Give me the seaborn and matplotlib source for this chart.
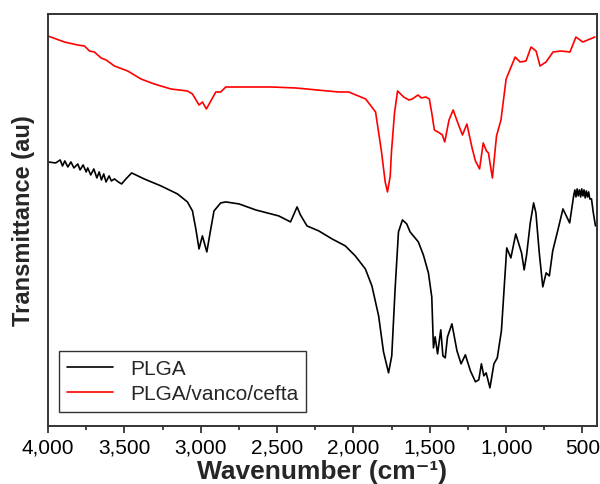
import matplotlib
matplotlib.use('Agg')
import matplotlib.pyplot as plt
import matplotlib.ticker as mticker
import pandas as pd
import seaborn as sns

# PLGA spectrum (wavenumber, transmittance in arbitrary units)
plga_wn = [4000, 3950, 3920, 3905, 3890, 3870, 3850, 3830, 3805, 3790, 3770, 3750,
           3740, 3720, 3700, 3680, 3665, 3650, 3635, 3620, 3600, 3585, 3565, 3540,
           3518, 3490, 3452, 3370, 3260, 3152, 3087, 3054, 3032, 3011, 2989, 2960,
           2934, 2913, 2891, 2869, 2836, 2749, 2640, 2489, 2412, 2369, 2347, 2304,
           2227, 2140, 2053, 1988, 1922, 1879, 1835, 1803, 1770, 1749, 1727, 1705,
           1679, 1651, 1629, 1575, 1542, 1509, 1487, 1476, 1465, 1449, 1428, 1414,
           1399, 1384, 1355, 1322, 1295, 1267, 1234, 1201, 1179, 1162, 1146, 1131,
           1106, 1080, 1058, 1031, 996, 969, 937, 899, 882, 866, 842, 820, 805,
           783, 760, 738, 717, 695, 661, 628, 606, 584, 558, 550, 543, 535, 528,
           520, 512, 505, 497, 490, 482, 475, 467, 460, 452, 441, 430, 415]
plga_t = [264, 263, 266, 260, 265, 259, 264, 258, 262, 256, 261, 254,
          258, 251, 257, 248, 254, 246, 252, 244, 250, 245, 247, 244,
          242, 247, 253, 247, 240, 232, 224, 215, 197, 177, 190, 174,
          197, 215, 219, 223, 224, 222, 216, 210, 204, 219, 211, 200,
          195, 187, 180, 170, 157, 140, 110, 74, 53, 70, 137, 194,
          206, 202, 194, 184, 171, 153, 129, 78, 89, 72, 96, 70,
          68, 89, 102, 75, 62, 71, 55, 44, 46, 62, 50, 53,
          38, 62, 68, 95, 178, 168, 192, 173, 156, 171, 203, 223, 213,
          173, 139, 153, 150, 175, 196, 217, 210, 203, 230, 236, 229, 237, 230,
          236, 229, 237, 230, 236, 228, 235, 229, 234, 227, 227, 214, 200]

# PLGA/vanco/cefta spectrum
mix_wn = [4000, 3892, 3805, 3761, 3728, 3696, 3652, 3619, 3565, 3478, 3391, 3304,
          3195, 3087, 3054, 3011, 2989, 2963, 2934, 2901, 2869, 2836, 2717, 2534,
          2377, 2097, 2031, 1920, 1855, 1816, 1792, 1777, 1759, 1751, 1731, 1711,
          1671, 1637, 1615, 1577, 1555, 1526, 1503, 1487, 1470, 1436, 1418, 1402,
          1374, 1347, 1314, 1286, 1257, 1223, 1201, 1174, 1150, 1129, 1116, 1090,
          1063, 1034, 1000, 941, 909, 870, 837, 804, 778, 739, 693, 641, 582,
          543, 498, 419]
mix_t = [390, 384, 381, 380, 375, 374, 368, 366, 360, 355, 347, 342,
         337, 335, 332, 321, 324, 317, 325, 334, 334, 339, 339, 339,
         338, 334, 334, 327, 314, 274, 244, 234, 250, 274, 313, 335,
         329, 326, 327, 331, 328, 329, 327, 313, 296, 293, 291, 284,
         306, 316, 302, 291, 302, 278, 265, 257, 283, 275, 273, 248,
         290, 306, 347, 369, 364, 365, 379, 375, 360, 364, 374, 375, 374,
         389, 384, 389]

series_names = ['PLGA', 'PLGA/vanco/cefta']
series_colors = ['black', 'red']
xticks = [4000, 3500, 3000, 2500, 2000, 1500, 1000, 500]

df = pd.concat([
    pd.DataFrame({'wn': plga_wn, 't': plga_t, 'sample': series_names[0]}),
    pd.DataFrame({'wn': mix_wn, 't': mix_t, 'sample': series_names[1]}),
])

sns.set_style('ticks')
plt.rcParams['font.family'] = ['Liberation Sans', 'DejaVu Sans']

fig = plt.figure(figsize=(6, 4.85), dpi=100)
ax = fig.add_axes([0.08, 0.12, 0.915, 0.849])

sns.lineplot(data=df, x='wn', y='t', hue='sample', hue_order=series_names,
             palette=dict(zip(series_names, series_colors)), estimator=None,
             linewidth=1.2, ax=ax)

ax.set_xlim(4000, 405)
ax.set_ylim(0, 412)
ax.set_xticks(xticks)
ax.xaxis.set_minor_locator(mticker.MultipleLocator(250))
ax.xaxis.set_major_formatter(mticker.FuncFormatter(lambda v, p: f'{int(v):,}'))
ax.set_yticks([])
ax.tick_params(axis='x', which='major', labelsize=15, length=5, width=1.2,
               direction='out', colors='#222222', labelcolor='black')
ax.tick_params(axis='x', which='minor', length=3, width=1.2, direction='out',
               colors='#222222')
for s in ax.spines.values():
    s.set_visible(True)
    s.set_linewidth(1.4)
    s.set_color('#333333')

ax.set_xlabel('Wavenumber (cm\u207b\u00b9)', fontsize=19, fontweight='bold', labelpad=2)
ax.set_ylabel('Transmittance (au)', fontsize=17, fontweight='bold', labelpad=9)

leg = ax.legend(loc='lower left', fontsize=15, frameon=True, fancybox=False,
                edgecolor='black', handlelength=2.2, borderpad=0.4,
                labelspacing=0.3, borderaxespad=0, bbox_to_anchor=(0.02, 0.034))
leg.get_frame().set_linewidth(1.0)
leg.set_title(None)

fig.savefig('out.png', dpi=100)
